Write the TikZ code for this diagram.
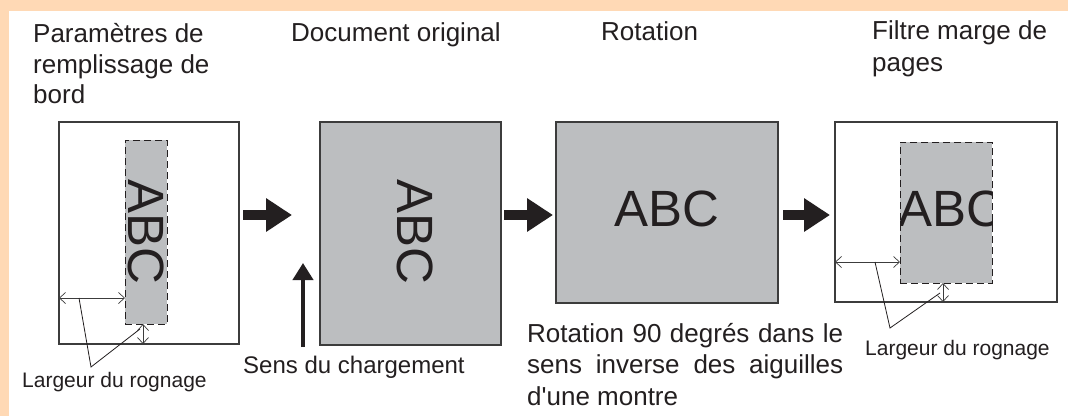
\documentclass[tikz,border=0pt]{standalone}
\usepackage{fontspec}
\setmainfont{Liberation Sans}
\usetikzlibrary{arrows.meta}
\definecolor{peach}{HTML}{FFD9B5}
\definecolor{paper}{HTML}{BCBEC0}
\definecolor{ink}{HTML}{231F20}
\definecolor{edge}{HTML}{3C3C3C}
\begin{document}
\begin{tikzpicture}[x=1pt,y=-1pt,
  page/.style={draw=edge, line width=2pt, inner sep=0pt, outer sep=0pt},
  cropbox/.style={draw=ink, fill=paper, dash pattern=on 7pt off 4pt, line width=1pt, inner sep=0pt, outer sep=0pt},
  bigabc/.style={font=\fontsize{51}{51}\selectfont, inner sep=0pt, text=ink},
  title/.style={font=\fontsize{26}{30.5}\selectfont, align=left, anchor=base west, inner sep=0pt, text=ink},
  note/.style={font=\fontsize{21}{25}\selectfont, anchor=base west, inner sep=0pt, text=ink},
  dimarrow/.style={{Straight Barb[length=6pt,width=11pt]}-{Straight Barb[length=6pt,width=11pt]}, line width=0.7pt, draw=edge},
  leader/.style={line width=0.8pt, draw=ink},
  bigarrow/.style={-{Triangle[length=26pt,width=32pt]}, line width=10pt, draw=ink, fill=ink},
  loadarrow/.style={-{Triangle[length=17pt,width=20pt]}, line width=4pt, draw=ink, fill=ink}
]
\useasboundingbox (0,0) rectangle (1068,416);
\fill[peach] (0,0) rectangle (1068,416);
\fill[white] (9,11) rectangle (1068,416);

% titles (multi-line: anchor is on last line's baseline)
\node[title] (t1) at (33,103.5) {Paramètres de\\remplissage de\\bord};
\node[title] (t2) at (291,41.7) {Document original};
\node[title] (t3) at (601,40) {Rotation};
\node[title, font=\fontsize{26}{32}\selectfont] (t4) at (872,71.3) {Filtre marge de\\pages};

% box 1: border fill settings
\node[page, fill=white, minimum width=180pt, minimum height=222pt] (b1) at (149,233) {};
\node[cropbox, minimum width=42pt, minimum height=184pt] (b1in) at (146,232) {};
\node[bigabc, rotate=-90] (abc1) at (146,232) {ABC};
\coordinate (d1) at (0,298);
\draw[dimarrow] (b1.west |- d1) -- (b1in.west |- d1);
\coordinate (v1) at (143,0);
\draw[dimarrow] (b1in.south -| v1) -- (b1.south -| v1);
\coordinate (l1a) at (79,298);
\coordinate (l1v) at (91,367);
\coordinate (l1b) at (140,329);
\draw[leader] (l1a) -- (l1v) -- (l1b);
\node[note] (n1) at (22,387) {Largeur du rognage};

% arrow 1
\coordinate (a1s) at (243,215);
\coordinate (a1e) at (292,215);
\draw[bigarrow] (a1s) -- (a1e);

% box 2: original document
\node[page, fill=paper, minimum width=181pt, minimum height=223pt] (b2) at (410.5,233.5) {};
\node[bigabc, rotate=-90] (abc2) at (415,232) {ABC};
\coordinate (ld0) at (303,347);
\coordinate (ld1) at (303,263);
\draw[loadarrow] (ld0) -- (ld1);
\node[note, font=\fontsize{24}{28}\selectfont] (n2) at (243,373.3) {Sens du chargement};

% arrow 2
\coordinate (a2s) at (504,215);
\coordinate (a2e) at (553,215);
\draw[bigarrow] (a2s) -- (a2e);

% box 3: rotation
\node[page, fill=paper, minimum width=222pt, minimum height=181pt] (b3) at (667,212.5) {};
\node[bigabc] (abc3) at (667,208.5) {ABC};
\node[font=\fontsize{26}{31.5}\selectfont, text width=316pt, align=justify, anchor=base west, inner sep=0pt, text=ink] (n3) at (527,342) {Rotation 90 degrés dans le\linebreak sens inverse des aiguilles\linebreak d\textquotesingle une montre};

% arrow 3
\coordinate (a3s) at (783,215);
\coordinate (a3e) at (830,215);
\draw[bigarrow] (a3s) -- (a3e);

% box 4: page margin filter
\node[page, fill=white, minimum width=222pt, minimum height=180pt] (b4) at (946,212) {};
\node[cropbox, minimum width=92pt, minimum height=141pt] (b4in) at (946,212.5) {};
\begin{scope}
  \clip (b4in.south west) rectangle (b4in.north east);
  \node[bigabc, anchor=west] (abc4) at (898,208.5) {ABC};
\end{scope}
\node[draw=ink, dash pattern=on 7pt off 4pt, line width=1pt, inner sep=0pt, outer sep=0pt, minimum width=92pt, minimum height=141pt] (b4edge) at (b4in) {};
\coordinate (d4) at (0,262);
\draw[dimarrow] (b4.west |- d4) -- (b4in.west |- d4);
\coordinate (v4) at (943,0);
\draw[dimarrow] (b4in.south -| v4) -- (b4.south -| v4);
\coordinate (l4a) at (875,262);
\coordinate (l4v) at (890,328);
\coordinate (l4b) at (940,293);
\draw[leader] (l4a) -- (l4v) -- (l4b);
\node[note] (n4) at (865,355) {Largeur du rognage};
\end{tikzpicture}
\end{document}
